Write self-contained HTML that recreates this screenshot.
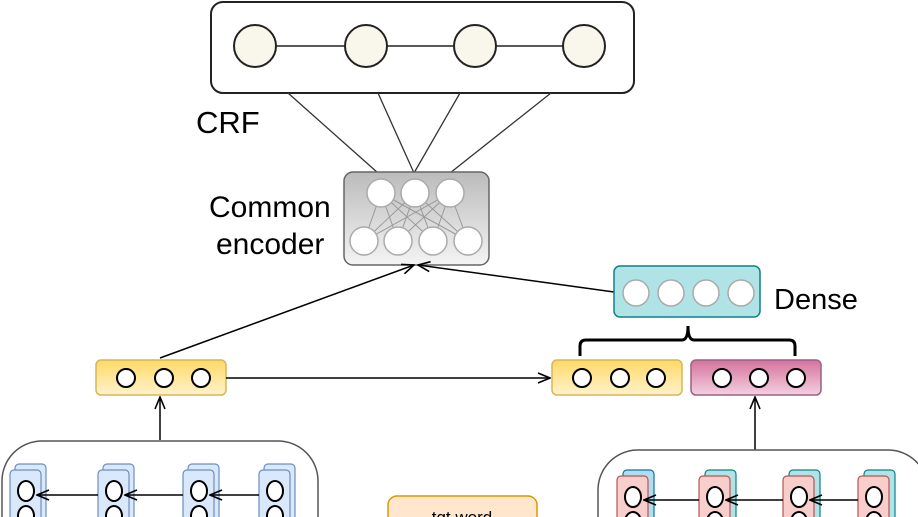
<!DOCTYPE html>
<html><head><style>html,body{margin:0;padding:0;background:#fff;overflow:hidden;width:918px;height:517px}svg{display:block}</style></head><body>
<svg width="918" height="517" viewBox="0 0 918 517" xmlns="http://www.w3.org/2000/svg" font-family="Liberation Sans, sans-serif">
<defs>
<linearGradient id="gr" x1="0" y1="0" x2="0" y2="1"><stop offset="0" stop-color="#bbb"/><stop offset="1" stop-color="#f4f4f4"/></linearGradient>
<linearGradient id="ye" x1="0" y1="0" x2="0" y2="1"><stop offset="0" stop-color="#ffd966"/><stop offset="1" stop-color="#fff2cc"/></linearGradient>
<linearGradient id="pk" x1="0" y1="0" x2="0" y2="1"><stop offset="0" stop-color="#d5739d"/><stop offset="1" stop-color="#f3d0e0"/></linearGradient>
<marker id="ar" markerWidth="14" markerHeight="12" refX="13" refY="6" orient="auto" markerUnits="userSpaceOnUse"><path d="M1,1 L13,6 L1,11" fill="none" stroke="#000" stroke-width="1.6"/></marker>
</defs>
<rect x="211" y="2" width="423" height="91" rx="12" fill="#fff" stroke="#222" stroke-width="2"/>
<line x1="255" y1="46" x2="584" y2="46" stroke="#222" stroke-width="1.5"/>
<g fill="#f9f7ec" stroke="#222" stroke-width="2"><circle cx="255" cy="46" r="21"/><circle cx="366" cy="46" r="21"/><circle cx="475" cy="46" r="21"/><circle cx="584" cy="46" r="21"/></g>
<text x="196" y="133" font-size="31">CRF</text>
<g stroke="#333" stroke-width="1.3"><line x1="288" y1="93" x2="378" y2="173"/><line x1="378" y1="93" x2="414" y2="173"/><line x1="460" y1="93" x2="414" y2="173"/><line x1="551" y1="93" x2="450" y2="173"/></g>
<rect x="344" y="172" width="145" height="93" rx="9" fill="url(#gr)" stroke="#666" stroke-width="1.5"/>
<g stroke="#999" stroke-width="1"><path d="M381,193L364,241M381,193L398,241M381,193L433,241M381,193L468,241M415,193L364,241M415,193L398,241M415,193L433,241M415,193L468,241M450,193L364,241M450,193L398,241M450,193L433,241M450,193L468,241"/></g>
<g fill="#fff" stroke="#aaa" stroke-width="1.5"><circle cx="381" cy="193" r="14"/><circle cx="415" cy="193" r="14"/><circle cx="450" cy="193" r="14"/><circle cx="364" cy="241" r="14"/><circle cx="398" cy="241" r="14"/><circle cx="433" cy="241" r="14"/><circle cx="468" cy="241" r="14"/></g>
<text x="209" y="217" font-size="30">Common</text>
<text x="216" y="254" font-size="30">encoder</text>
<line x1="160" y1="358" x2="414" y2="265" stroke="#000" stroke-width="1.5" marker-end="url(#ar)"/>
<line x1="614" y1="292" x2="418" y2="265" stroke="#000" stroke-width="1.5" marker-end="url(#ar)"/>
<rect x="614" y="266" width="146" height="51" rx="6" fill="#b0e3e6" stroke="#0e8088" stroke-width="1.5"/>
<g fill="#fff" stroke="#aaa" stroke-width="1.5"><circle cx="636" cy="293" r="13"/><circle cx="671" cy="293" r="13"/><circle cx="706" cy="293" r="13"/><circle cx="741" cy="293" r="13"/></g>
<text x="774" y="309" font-size="29">Dense</text>
<path d="M580,356 V346 Q580,340 586,340 H682 Q688,340 688,326 Q688,340 694,340 H789 Q795,340 795,346 V356" fill="none" stroke="#000" stroke-width="3"/>
<rect x="96" y="360" width="130" height="35" rx="5" fill="url(#ye)" stroke="#d6b656" stroke-width="1.5"/>
<rect x="552" y="360" width="130" height="35" rx="5" fill="url(#ye)" stroke="#d6b656" stroke-width="1.5"/>
<rect x="691" y="360" width="130" height="35" rx="5" fill="url(#pk)" stroke="#996185" stroke-width="1.5"/>
<g fill="#fff" stroke="#000" stroke-width="2"><circle cx="126" cy="378" r="9"/><circle cx="164" cy="378" r="9"/><circle cx="201" cy="378" r="9"/><circle cx="582" cy="378" r="9"/><circle cx="620" cy="378" r="9"/><circle cx="656" cy="378" r="9"/><circle cx="722" cy="378" r="9"/><circle cx="759" cy="378" r="9"/><circle cx="796" cy="378" r="9"/></g>
<line x1="226" y1="378" x2="550" y2="378" stroke="#000" stroke-width="1.5" marker-end="url(#ar)"/>
<line x1="160" y1="440" x2="160" y2="397" stroke="#000" stroke-width="1.5" marker-end="url(#ar)"/>
<line x1="755" y1="450" x2="755" y2="397" stroke="#000" stroke-width="1.5" marker-end="url(#ar)"/>
<rect x="2" y="441" width="316" height="120" rx="40" fill="#fff" stroke="#555" stroke-width="1.5"/>
<rect x="598" y="450" width="330" height="120" rx="40" fill="#fff" stroke="#555" stroke-width="1.5"/>
<g stroke="#6c8ebf" stroke-width="1.2" fill="#dae8fc">
<rect x="15" y="464" width="31" height="60" rx="4"/><rect x="10" y="470" width="31" height="60" rx="4"/>
<rect x="103" y="464" width="31" height="60" rx="4"/><rect x="98" y="470" width="31" height="60" rx="4"/>
<rect x="188" y="464" width="31" height="60" rx="4"/><rect x="183" y="470" width="31" height="60" rx="4"/>
<rect x="264" y="464" width="31" height="60" rx="4"/><rect x="259" y="470" width="31" height="60" rx="4"/>
</g>
<g fill="#b1ddf0" stroke="#10739e" stroke-width="1.2"><rect x="623" y="470" width="31" height="60" rx="4"/></g>
<g fill="#b0e3e6" stroke="#0e8088" stroke-width="1.2"><rect x="705" y="470" width="31" height="60" rx="4"/><rect x="789" y="470" width="31" height="60" rx="4"/><rect x="864" y="470" width="31" height="60" rx="4"/></g>
<g fill="#f8cecc" stroke="#b85450" stroke-width="1.2"><rect x="617" y="476" width="31" height="60" rx="4"/><rect x="699" y="476" width="31" height="60" rx="4"/><rect x="783" y="476" width="31" height="60" rx="4"/><rect x="858" y="476" width="31" height="60" rx="4"/></g>
<g fill="#fff" stroke="#000" stroke-width="2"><ellipse cx="26" cy="491" rx="8" ry="10"/><ellipse cx="26" cy="516" rx="8" ry="10"/><ellipse cx="114" cy="491" rx="8" ry="10"/><ellipse cx="114" cy="516" rx="8" ry="10"/><ellipse cx="199" cy="491" rx="8" ry="10"/><ellipse cx="199" cy="516" rx="8" ry="10"/><ellipse cx="275" cy="491" rx="8" ry="10"/><ellipse cx="275" cy="516" rx="8" ry="10"/>
<ellipse cx="633" cy="497" rx="8" ry="10"/><ellipse cx="633" cy="522" rx="8" ry="10"/><ellipse cx="715" cy="497" rx="8" ry="10"/><ellipse cx="715" cy="522" rx="8" ry="10"/><ellipse cx="799" cy="497" rx="8" ry="10"/><ellipse cx="799" cy="522" rx="8" ry="10"/><ellipse cx="874" cy="497" rx="8" ry="10"/><ellipse cx="874" cy="522" rx="8" ry="10"/></g>
<g stroke="#000" stroke-width="1.5"><line x1="98" y1="495" x2="37" y2="495" marker-end="url(#ar)"/><line x1="183" y1="495" x2="125" y2="495" marker-end="url(#ar)"/><line x1="259" y1="495" x2="210" y2="495" marker-end="url(#ar)"/>
<line x1="699" y1="500" x2="644" y2="500" marker-end="url(#ar)"/><line x1="783" y1="500" x2="726" y2="500" marker-end="url(#ar)"/><line x1="858" y1="500" x2="810" y2="500" marker-end="url(#ar)"/></g>
<rect x="388" y="496" width="149" height="50" rx="9" fill="#ffe6cc" stroke="#d79b00" stroke-width="1.5"/>
<text x="462" y="523" font-size="17" text-anchor="middle">tgt word</text>
</svg>
</body></html>
